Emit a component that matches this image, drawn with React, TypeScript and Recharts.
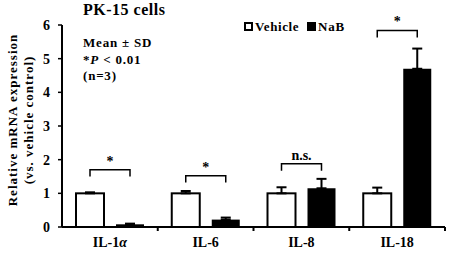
import React from "react";
import { BarChart, Bar, XAxis, YAxis, ErrorBar, Legend } from "recharts";

const categories = ["IL-1α", "IL-6", "IL-8", "IL-18"];
const vehicle = [1, 1, 1, 1];
const vehicleSd = [0.03, 0.07, 0.18, 0.17];
const nab = [0.08, 0.22, 1.15, 4.7];
const nabSd = [0.02, 0.06, 0.28, 0.6];
const bracketTop = [1.7, 1.52, 1.88, 5.84];
const bracketEnd = [1.5, 1.32, 1.67, 5.63];
const significance = ["*", "*", "n.s.", "*"];
const yTicks = [0, 1, 2, 3, 4, 5, 6];
const seriesOrder = ["vehicle", "nab"];

const data = categories.map((name, i) => ({
  name,
  vehicle: vehicle[i],
  vehicleErr: [0, vehicleSd[i]],
  nab: nab[i],
  nabErr: [0, nabSd[i]],
}));

const W = 450;
const H = 253;
const MARGIN = { top: 25, right: 5, bottom: 0, left: 20 };
const Y_AXIS_W = 42;
const X_AXIS_H = 26;
const BAR_GAP = 12;
const X_TICK_SIZE = 4;
const X_TICK_MARGIN = 6;
const FONT = "Liberation Serif, Times New Roman, DejaVu Serif, serif";
const bold = { fontFamily: FONT, fontWeight: 700 };

// vehicle bar: hollow rect + significance bracket over the pair
function VehicleBar(props: any) {
  const { x, y, width, height, index } = props;
  const base = y + height;
  const ppu = height / vehicle[index];
  const x1 = x + width / 2;
  const x2 = x1 + width + BAR_GAP;
  const yTop = base - bracketTop[index] * ppu;
  const yEnd = base - bracketEnd[index] * ppu;
  return (
    <g>
      <rect x={x} y={y} width={width} height={height} fill="#fff" stroke="#000" strokeWidth={2} />
      <path d={`M${x1},${yEnd}V${yTop}H${x2}V${yEnd}`} fill="none" stroke="#000" strokeWidth={1.5} />
      <text x={(x1 + x2) / 2} y={yTop - 4} textAnchor="middle" fontSize={14} fill="#000" style={bold}>
        {significance[index]}
      </text>
    </g>
  );
}

function CategoryTick(props: any) {
  const { x, y, payload, width, visibleTicksCount } = props;
  const plotW = W - MARGIN.left - MARGIN.right - Y_AXIS_W;
  const band = width && visibleTicksCount ? width / visibleTicksCount : plotW / categories.length;
  const axisY = y - X_TICK_SIZE - X_TICK_MARGIN;
  const label = String(payload.value);
  const isAlpha = label.endsWith("α");
  return (
    <g>
      <line x1={x + band / 2} x2={x + band / 2} y1={axisY} y2={axisY + 4} stroke="#000" strokeWidth={2} />
      <text x={x} y={axisY + 20} textAnchor="middle" fontSize={14} fill="#000" style={bold}>
        {isAlpha ? label.slice(0, -1) : label}
        {isAlpha && <tspan fontStyle="italic">α</tspan>}
      </text>
    </g>
  );
}

function YTick(props: any) {
  const { x, y, payload } = props;
  return (
    <text x={x} y={y} dy={5} textAnchor="end" fontSize={14} fill="#000" style={bold}>
      {payload.value}
    </text>
  );
}

function YLabel(props: any) {
  const vb = props.viewBox;
  const cy = vb.y + vb.height / 2 - 6;
  return (
    <g>
      {[
        { x: 12, text: "Relative mRNA expression" },
        { x: 28, text: "(vs. vehicle control)" },
      ].map((l) => (
        <text
          key={l.text}
          x={l.x}
          y={cy}
          transform={`rotate(-90, ${l.x}, ${cy})`}
          textAnchor="middle"
          dominantBaseline="central"
          fontSize={13}
          fill="#000"
          style={{ ...bold, letterSpacing: 1 }}
        >
          {l.text}
        </text>
      ))}
    </g>
  );
}

function LegendContent(props: any) {
  const items = [...(props.payload || [])].sort(
    (a: any, b: any) => seriesOrder.indexOf(a.dataKey) - seriesOrder.indexOf(b.dataKey)
  );
  let cx = 0;
  return (
    <svg width={120} height={16} style={{ display: "block" }}>
      {items.map((item: any) => {
        const hollow = item.dataKey === "vehicle";
        const sx = cx;
        const label = String(item.value);
        cx += hollow ? 63 : 40;
        return (
          <g key={label}>
            <rect x={sx + 1} y={5} width={7} height={7} fill={hollow ? "#fff" : "#000"} stroke="#000" strokeWidth={2} />
            <text x={sx + 11} y={13} fontSize={13} fill="#000" style={{ ...bold, letterSpacing: hollow ? 0.6 : 0.8 }}>
              {label}
            </text>
          </g>
        );
      })}
    </svg>
  );
}

export default function App() {
  const textStyle = { ...bold, letterSpacing: 0.8 };
  return (
    <div style={{ position: "absolute", left: 0, top: 0, width: W, height: H, background: "#fff" }}>
      <BarChart width={W} height={H} data={data} margin={MARGIN} barGap={BAR_GAP} barCategoryGap={14}>
        <XAxis
          dataKey="name"
          height={X_AXIS_H}
          axisLine={{ stroke: "#000", strokeWidth: 2 }}
          tickLine={false}
          tickSize={X_TICK_SIZE}
          tickMargin={X_TICK_MARGIN}
          tick={<CategoryTick />}
          interval={0}
        />
        <YAxis
          width={Y_AXIS_W}
          domain={[0, 6]}
          ticks={yTicks}
          interval={0}
          axisLine={{ stroke: "#000", strokeWidth: 2 }}
          tickLine={{ stroke: "#000", strokeWidth: 1.5 }}
          tickSize={4}
          tickMargin={8}
          tick={<YTick />}
          label={<YLabel />}
        />
        <Legend
          layout="horizontal"
          verticalAlign="middle"
          align="center"
          content={<LegendContent />}
          wrapperStyle={{ top: 18, left: 244, width: 120 }}
        />
        <Bar dataKey="vehicle" name="Vehicle" fill="#fff" stroke="#000" shape={<VehicleBar />} isAnimationActive={false}>
          <ErrorBar dataKey="vehicleErr" direction="y" width={5} stroke="#000" strokeWidth={2} />
        </Bar>
        <Bar dataKey="nab" name="NaB" fill="#000" isAnimationActive={false}>
          <ErrorBar dataKey="nabErr" direction="y" width={5} stroke="#000" strokeWidth={2} />
        </Bar>
      </BarChart>
      <svg width={W} height={H} style={{ position: "absolute", left: 0, top: 0, pointerEvents: "none" }}>
        <text x={83} y={15} fontSize={16} fill="#000" style={{ ...bold, letterSpacing: 0.5 }}>
          PK-15 cells
        </text>
        <text x={83} y={46.5} fontSize={13} fill="#000" style={textStyle}>
          Mean ± SD
        </text>
        <text x={83} y={63.5} fontSize={13} fill="#000" style={textStyle}>
          *<tspan fontStyle="italic">P</tspan> {"< 0.01"}
        </text>
        <text x={83} y={80} fontSize={13} fill="#000" style={textStyle}>
          (n=3)
        </text>
      </svg>
    </div>
  );
}
